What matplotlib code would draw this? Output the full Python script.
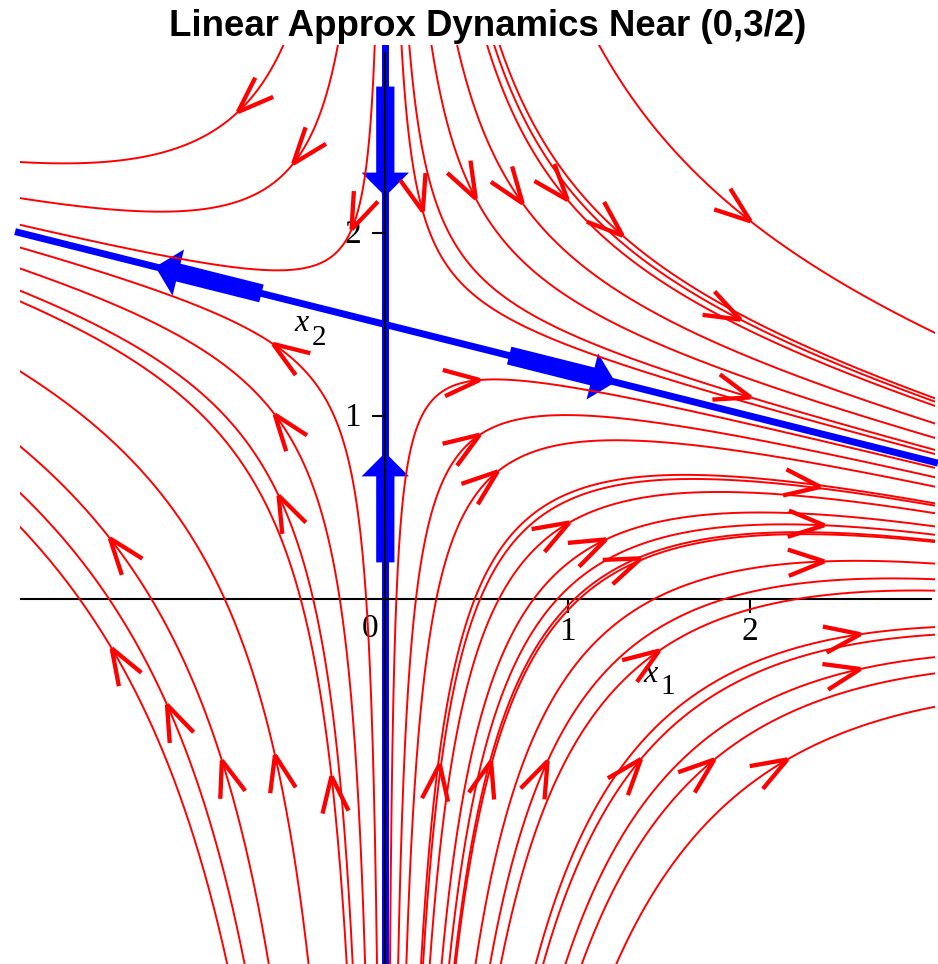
import numpy as np
import matplotlib.pyplot as plt

# linearisation about the saddle (0, 3/2):  u' = u,  v' = -u/2 - v   (u = x1, v = x2 - 3/2)
x_eq, y_eq = 0.0, 1.5
A = np.array([[1.0, 0.0], [-0.5, -1.0]])

# every orbit keeps K = x1*(4*(x2 - 3/2) + x1) fixed; side = sign of x1
k_upper_left = [-3.1, -1.52, -0.35]
k_lower_left = [0.64, 1.56, 2.53, 3.0, 6.06, 9.34, 11.38, 12.87]
k_upper_right = [0.55, 0.82, 1.61, 2.56, 3.72, 4.0, 4.22, 8.53]
k_lower_right = [-0.36, -0.98, -1.6, -2.7, -2.85, -3.35, -4.22, -4.77, -5.15, -5.25,
                 -6.67, -7.7, -8.45, -10.85, -11.35, -12.83, -13.9, -16.1]

# arrow heads on the orbits: orbit level K and the x1 where the head sits
arrow_k = [-3.1, -1.52, -0.35,
           0.64, 1.56, 2.53, 3.0, 6.06, 9.34, 9.34, 11.38, 12.87,
           0.55, 1.61, 2.56, 3.72, 4.22, 4.0, 8.53, 0.82,
           -0.36, -0.98, -1.6, -2.78, -2.78, -3.35, -4.22, -5.2, -5.2, -4.77, -6.67,
           -7.7, -8.45, -10.85, -11.35, -12.83, -13.9, -16.1]
arrow_x = [-0.808, -0.505, -0.185,
           -0.615, -0.606, -0.585, -0.295, -0.605, -1.51, -0.896, -1.197, -1.50,
           0.2055, 0.496, 0.753, 1.0, 1.301, 1.948, 2.003, 2.003,
           0.518, 0.518, 0.616, 0.2986, 2.386, 1.009, 1.21, 0.58, 1.402, 2.407, 2.407,
           0.89, 1.502, 2.605, 1.402, 2.605, 1.804, 2.205]

# eigen-directions drawn in blue, arrows from 0.7 to 1.3 away from the saddle
stable_dir = np.array([0.0, 1.0])
unstable_dir = np.array([4.0, -1.0]) / np.sqrt(17.0)

x_ticks = [1, 2]
y_ticks = [1, 2]


def orbit(K, side):
    u = side * np.geomspace(1e-4, 3.2, 3000)
    return x_eq + u, y_eq + (K / u - u) / 4.0


def orbit_y(K, x):
    u = x - x_eq
    return y_eq + (K / u - u) / 4.0


fig = plt.figure(figsize=(9.38, 9.64), dpi=100)
ax = fig.add_axes([20 / 938, -1 / 964, 915 / 938, 920.5 / 964])
ax.set_xlim(-2.003, 3.014)
ax.set_ylim(-2.0, 3.03)
ax.axis('off')

# blue eigenlines
xs = np.array([-2.03, 3.03])
ax.plot(xs, y_eq - (xs - x_eq) / 4.0, color='#0000ff', lw=5, solid_capstyle='butt', zorder=1, clip_on=False)
ax.plot([x_eq, x_eq], [-2.0, 3.03], color='#0000ff', lw=5, solid_capstyle='butt', zorder=1)
centre = np.array([x_eq, y_eq])
for s in [1, -1]:
    # stable direction: arrows point in, unstable: arrows point out
    for p0, p1 in [(centre + s * 1.3 * stable_dir, centre + s * 0.7 * stable_dir),
                   (centre + s * 0.7 * unstable_dir, centre + s * 1.3 * unstable_dir)]:
        ax.arrow(p0[0], p0[1], p1[0] - p0[0], p1[1] - p0[1], width=0.1,
                 head_width=0.26, head_length=0.13, length_includes_head=True,
                 color='#0000ff', lw=0, zorder=1)

# axes
ax.plot([-1.995, 2.99], [0, 0], color='black', lw=1.5, zorder=2)
ax.plot([0, 0], [-2.0, 2.985], color='black', lw=1.5, zorder=2)
serif = 'Liberation Serif'
for t in x_ticks:
    ax.plot([t, t], [0, -0.072], color='black', lw=1.5, zorder=2)
    ax.text(t, -0.18, str(t), ha='center', va='center', fontsize=24, family=serif)
for t in y_ticks:
    ax.plot([0, -0.068], [t, t], color='black', lw=1.5, zorder=2)
    ax.text(-0.178, t - 0.01, str(t), ha='center', va='center', fontsize=24, family=serif)
ax.text(-0.085, -0.164, '0', ha='center', va='center', fontsize=24, family=serif)

ax.text(1.416, -0.4536, 'x', ha='left', va='baseline', fontsize=23, style='italic', family=serif)
ax.text(1.5096, -0.519, '1', ha='left', va='baseline', fontsize=21, family=serif)
ax.text(-0.496, 1.462, 'x', ha='left', va='baseline', fontsize=23, style='italic', family=serif)
ax.text(-0.403, 1.388, '2', ha='left', va='baseline', fontsize=21, family=serif)

# red orbits
for ks, side in [(k_upper_left, -1), (k_lower_left, -1), (k_upper_right, 1), (k_lower_right, 1)]:
    for K in ks:
        ox, oy = orbit(K, side)
        ax.plot(ox, oy, color='#ff0000', lw=1.4, zorder=3)

# red open arrow heads pointing along the flow
L = 0.21
ang = np.radians(20)
for K, xa in zip(arrow_k, arrow_x):
    ya = orbit_y(K, xa)
    d = A @ np.array([xa - x_eq, ya - y_eq])
    d = d / np.hypot(d[0], d[1])
    for a in [ang, -ang]:
        r = np.array([[np.cos(a), -np.sin(a)], [np.sin(a), np.cos(a)]]) @ d
        ax.plot([xa, xa - L * r[0]], [ya, ya - L * r[1]], color='#ff0000', lw=3.1,
                solid_capstyle='butt', zorder=4)

fig.text(488 / 938, 1 - 27 / 964, 'Linear Approx Dynamics Near (0,3/2)', ha='center', va='center',
         fontsize=26.4, fontweight='bold', family='Liberation Sans')

plt.savefig('out.png', dpi=100)
